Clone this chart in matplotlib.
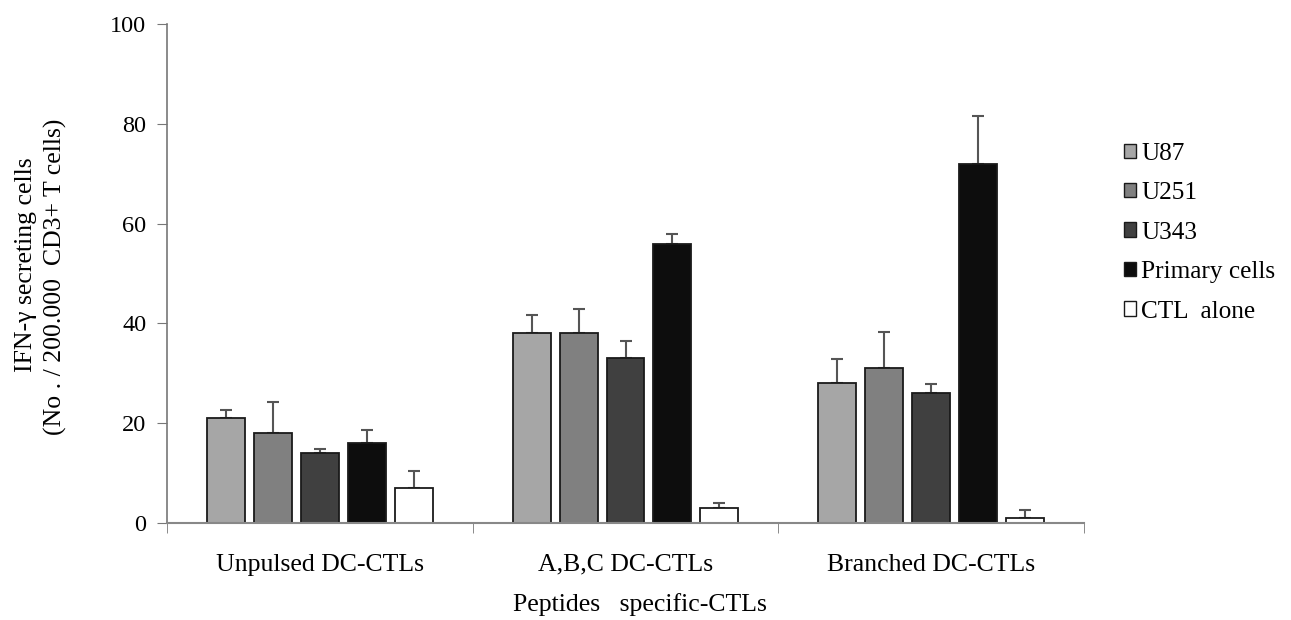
import matplotlib
matplotlib.use("Agg")
import matplotlib.pyplot as plt
import numpy as np
from matplotlib.patches import Patch

categories = ["Unpulsed DC-CTLs", "A,B,C DC-CTLs", "Branched DC-CTLs"]
series_names = ["U87", "U251", "U343", "Primary cells", "CTL  alone"]
u87 = [21, 38, 28]
u251 = [18, 38, 31]
u343 = [14, 33, 26]
primary = [16, 56, 72]
ctl = [7, 3, 1]
u87_err = [1.6, 3.6, 4.8]
u251_err = [6.2, 4.8, 7.2]
u343_err = [0.8, 3.4, 1.8]
primary_err = [2.6, 2.0, 9.6]
ctl_err = [3.4, 1.0, 1.6]
yticks = [0, 20, 40, 60, 80, 100]

values = [u87, u251, u343, primary, ctl]
errors = [u87_err, u251_err, u343_err, primary_err, ctl_err]
colors = ["#a6a6a6", "#808080", "#404040", "#0d0d0d", "#ffffff"]

plt.rcParams['font.family'] = ['Liberation Serif', 'DejaVu Serif']

fig = plt.figure(figsize=(12.91, 6.2), dpi=100)
ax = fig.add_axes([167/1291, 1 - 523/620, (1084-167)/1291, (523-24)/620])

x = np.arange(len(categories))
pitch = 0.1536
width = 0.124
for i, (vals, errs, col) in enumerate(zip(values, errors, colors)):
    pos = x + (i - 2) * pitch
    ax.bar(pos, vals, width=width, color=col, edgecolor="#1a1a1a", linewidth=1.3,
           zorder=2)
    ax.errorbar(pos, vals, yerr=[np.zeros(len(errs)), errs], fmt="none",
                ecolor="#555555", elinewidth=1.5, capsize=4.5, capthick=1.5, zorder=1)

ax.set_xlim(-0.5, 2.5)
ax.set_ylim(0, 100)
ax.set_yticks(yticks)
ax.set_yticklabels([str(t) for t in yticks], fontsize=17.5)
ax.set_xticks(x)
ax.set_xticklabels(categories, fontsize=18.5)
ax.set_xticks([-0.5, 0.5, 1.5, 2.5], minor=True)
ax.tick_params(axis='x', which='major', length=0, pad=22)
ax.tick_params(axis='x', which='minor', length=7, direction='out', color="#777777")
ax.tick_params(axis='y', length=7, direction='out', color="#777777", pad=8)
for s in ["top", "right"]:
    ax.spines[s].set_visible(False)
ax.spines["left"].set_color("#777777")
ax.spines["bottom"].set_color("#888888")
ax.spines["left"].set_linewidth(1.2)
ax.spines["bottom"].set_linewidth(1.5)

fig.text(26/1291, 1 - 265/620, "IFN-\u03b3 secreting cells", rotation=90,
         ha="center", va="center", fontsize=18.5)
fig.text(55/1291, 1 - 277/620, "(No . / 200.000  CD3+ T cells)", rotation=90,
         ha="center", va="center", fontsize=18.5)
fig.text(640/1291, 1 - 605/620, "Peptides   specific-CTLs", ha="center", va="center",
         fontsize=18.5)

handles = [Patch(facecolor=c, edgecolor="#1a1a1a", linewidth=1.0) for c in colors]
leg = fig.legend(handles, series_names, loc="upper left",
                 bbox_to_anchor=(1101/1291, 1 - 120/620), frameon=False, fontsize=18.2,
                 handlelength=0.5, handleheight=0.5, handletextpad=0.2,
                 labelspacing=0.69)

fig.savefig("out.png", dpi=100)
